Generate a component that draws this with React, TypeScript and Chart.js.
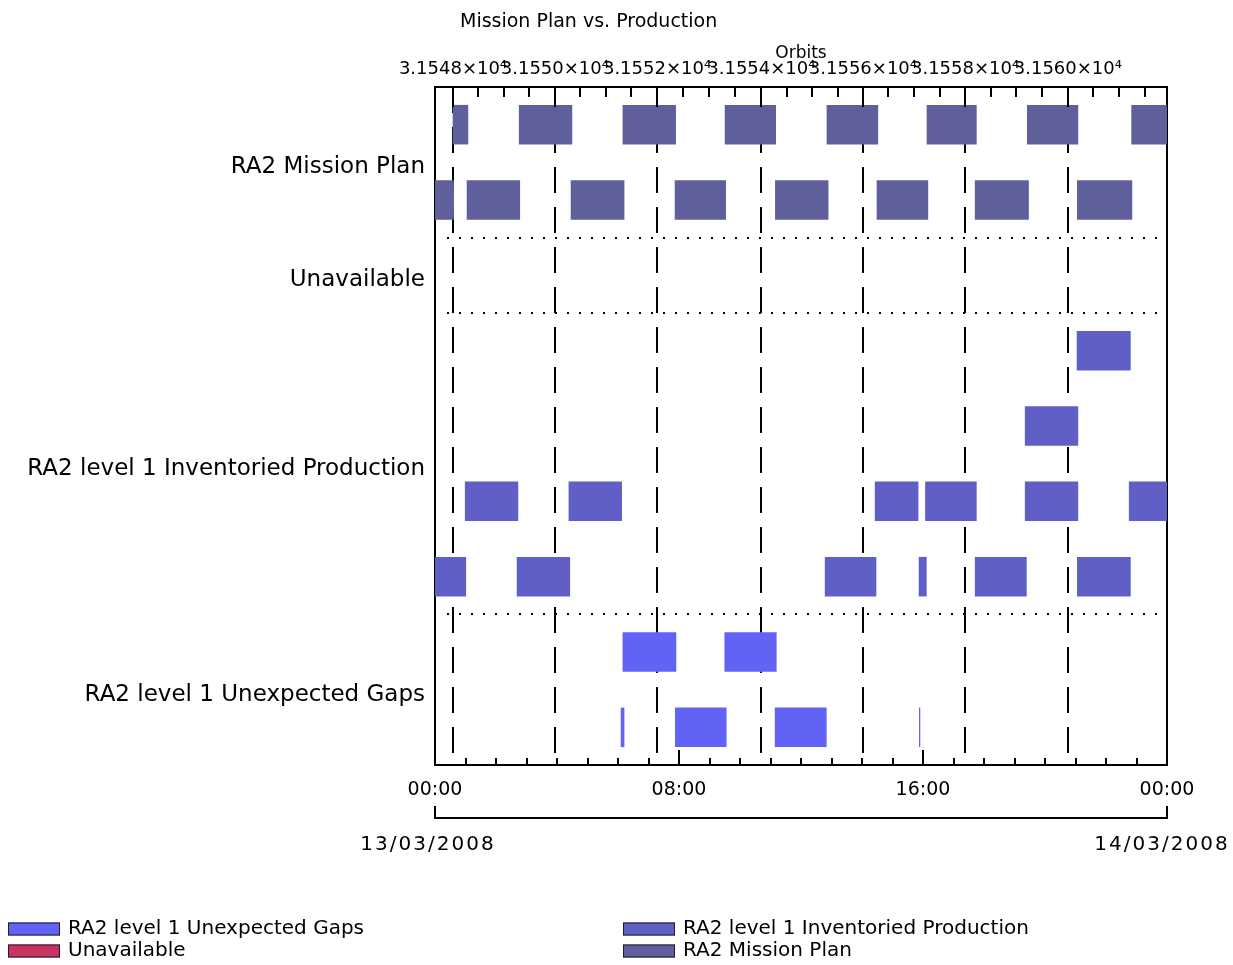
import { useEffect, useRef } from 'react';
import { Chart, registerables } from 'chart.js';

Chart.register(...registerables);

// ---------- data ----------
const chartTitle = 'Mission Plan vs. Production';
const orbitAxisTitle = 'Orbits';

const lanes = ['plan-a', 'plan-b', 'unavailable', 'prod-a', 'prod-b', 'prod-c', 'prod-d', 'gaps-a', 'gaps-b'];
const sectionNames = ['RA2 Mission Plan', 'Unavailable', 'RA2 level 1 Inventoried Production', 'RA2 level 1 Unexpected Gaps'];
const sectionLaneCounts = [2, 1, 4, 2];

const timeTickLabels = ['00:00', '08:00', '16:00', '00:00'];
const dateLabels = ['13/03/2008', '14/03/2008'];

const orbitNumbers = [31548, 31550, 31552, 31554, 31556, 31558, 31560];
const orbitTimes = [0.59, 3.93, 7.28, 10.7, 14.03, 17.38, 20.75]; // hours after 00:00

const seriesNames = ['RA2 level 1 Unexpected Gaps', 'Unavailable', 'RA2 level 1 Inventoried Production', 'RA2 Mission Plan'];
const seriesColors = ['#6262f4', '#c9335f', '#5f5fc6', '#5f5f9c'];

// spans in hours [start, end]
const planLaneA = [[0.58, 1.09], [2.75, 4.5], [6.15, 7.9], [9.5, 11.18], [12.84, 14.53], [16.12, 17.76], [19.41, 21.09], [22.83, 24]];
const planLaneB = [[0, 0.62], [1.04, 2.79], [4.45, 6.21], [7.86, 9.54], [11.15, 12.9], [14.48, 16.17], [17.7, 19.47], [21.05, 22.86]];
const unavailableSpans: number[][] = [];
const prodLaneA = [[21.04, 22.81]];
const prodLaneB = [[19.34, 21.09]];
const prodLaneC = [[0.98, 2.73], [4.38, 6.13], [14.42, 15.85], [16.07, 17.76], [19.34, 21.09], [22.75, 24]];
const prodLaneD = [[0, 1.02], [2.68, 4.43], [12.78, 14.47], [15.86, 16.12], [17.7, 19.4], [21.05, 22.81]];
const gapsLaneA = [[6.15, 7.91], [9.49, 11.2]];
const gapsLaneB = [[6.09, 6.21], [7.87, 9.56], [11.14, 12.84], [15.87, 15.91]];

// ---------- helpers ----------
const FONT = 'DejaVu Sans';
const toBars = (lane: string, spans: number[][]) => spans.map(([s, e]) => ({ x: [s, e], y: lane }));

const sectionCenters: number[] = [];
const sectionBounds: number[] = [];
{
  let acc = 0;
  sectionLaneCounts.forEach((n, i) => {
    sectionCenters.push(acc + n / 2);
    acc += n;
    if (i < sectionLaneCounts.length - 1) sectionBounds.push(acc);
  });
}

const orbitLabel = (n: number) => (n / 1e4).toFixed(4) + '×10⁴';

const decorPlugin = {
  id: 'decor',
  beforeDatasetsDraw(chart: any) {
    const { ctx, chartArea: a, scales } = chart;
    const xs = scales.x;
    const ys = scales.ySec;
    ctx.save();
    ctx.strokeStyle = '#000';
    ctx.lineWidth = 2;
    ctx.setLineDash([26, 14]);
    orbitTimes.forEach((t) => {
      const px = Math.round(xs.getPixelForValue(t));
      ctx.beginPath();
      ctx.moveTo(px, a.top);
      ctx.lineTo(px, a.bottom);
      ctx.stroke();
    });
    ctx.setLineDash([2, 10]);
    sectionBounds.forEach((v) => {
      const py = Math.round(ys.getPixelForValue(v));
      ctx.beginPath();
      ctx.moveTo(a.left + 12, py);
      ctx.lineTo(a.right - 6, py);
      ctx.stroke();
    });
    ctx.restore();
  },
  afterDraw(chart: any) {
    const { ctx, chartArea: a, scales } = chart;
    const xs = scales.x;
    const px = (t: number) => Math.round(xs.getPixelForValue(t));
    const line = (x1: number, y1: number, x2: number, y2: number) => {
      ctx.beginPath();
      ctx.moveTo(x1, y1);
      ctx.lineTo(x2, y2);
      ctx.stroke();
    };
    ctx.save();
    ctx.strokeStyle = '#000';
    ctx.lineWidth = 2;
    ctx.setLineDash([]);

    // top orbit ticks (inward)
    orbitTimes.forEach((t) => line(px(t), a.top, px(t), a.top + 20));
    const n = orbitTimes.length;
    const avg = (orbitTimes[n - 1] - orbitTimes[0]) / (n - 1);
    for (let i = 0; i < n - 1; i++) {
      for (let j = 1; j < 4; j++) {
        const t = orbitTimes[i] + ((orbitTimes[i + 1] - orbitTimes[i]) * j) / 4;
        line(px(t), a.top, px(t), a.top + 10);
      }
    }
    for (let t = orbitTimes[n - 1] + avg / 4; t < 24; t += avg / 4) line(px(t), a.top, px(t), a.top + 10);
    for (let t = orbitTimes[0] - avg / 4; t > 0; t -= avg / 4) line(px(t), a.top, px(t), a.top + 10);

    // bottom hour ticks (inward)
    for (let h = 1; h < 24; h++) {
      const len = h % 8 === 0 ? 15 : 7;
      line(px(h), a.bottom, px(h), a.bottom - len);
    }

    // date bracket
    ctx.beginPath();
    ctx.moveTo(a.left, a.bottom + 41);
    ctx.lineTo(a.left, a.bottom + 53);
    ctx.lineTo(a.right, a.bottom + 53);
    ctx.lineTo(a.right, a.bottom + 41);
    ctx.stroke();

    ctx.fillStyle = '#000';
    ctx.textBaseline = 'middle';
    ctx.textAlign = 'center';
    ctx.font = `20px "${FONT}"`;
    if ('letterSpacing' in ctx) (ctx as any).letterSpacing = '2px';
    ctx.fillText(dateLabels[0], a.left - 7, a.bottom + 80);
    ctx.fillText(dateLabels[1], a.right - 5, a.bottom + 80);
    if ('letterSpacing' in ctx) (ctx as any).letterSpacing = '0px';

    // title
    ctx.textAlign = 'left';
    ctx.font = `19px "${FONT}"`;
    ctx.fillText(chartTitle, 460, 22);

    // legend (two columns)
    ctx.font = `20px "${FONT}"`;
    chart.data.datasets.forEach((ds: any, i: number) => {
      const col = Math.floor(i / 2);
      const row = i % 2;
      const sx = col === 0 ? 8 : 623;
      const cy = 929 + row * 22;
      ctx.fillStyle = ds.backgroundColor;
      ctx.fillRect(sx, cy - 6.5, 52, 13);
      ctx.lineWidth = 1;
      ctx.strokeStyle = '#1a1a2a';
      ctx.strokeRect(sx + 0.5, cy - 6, 51, 12);
      ctx.fillStyle = '#000';
      ctx.fillText(ds.label, sx + 60, cy);
    });
    ctx.restore();
  },
};

export default function App() {
  const ref = useRef<HTMLCanvasElement>(null);
  useEffect(() => {
    if (!ref.current) return;
    const laneSeries = [
      [...toBars('gaps-a', gapsLaneA), ...toBars('gaps-b', gapsLaneB)],
      toBars('unavailable', unavailableSpans),
      [...toBars('prod-a', prodLaneA), ...toBars('prod-b', prodLaneB), ...toBars('prod-c', prodLaneC), ...toBars('prod-d', prodLaneD)],
      [...toBars('plan-a', planLaneA), ...toBars('plan-b', planLaneB)],
    ];
    const chart = new Chart(ref.current, {
      type: 'bar',
      data: {
        datasets: laneSeries.map((data, i) => ({
          label: seriesNames[i],
          data: data as any,
          backgroundColor: seriesColors[i],
          borderWidth: 0,
          xAxisID: 'x',
          yAxisID: 'y',
          grouped: false,
          categoryPercentage: 1,
          barPercentage: 0.525,
        })),
      },
      options: {
        indexAxis: 'y',
        animation: false,
        responsive: false,
        layout: { padding: 0 },
        plugins: {
          legend: { display: false },
          title: { display: false },
          tooltip: { enabled: false },
        },
        scales: {
          y: { type: 'category', labels: lanes, offset: true, display: false },
          x: {
            type: 'linear',
            position: 'bottom',
            min: 0,
            max: 24,
            offset: false,
            grid: { display: false, drawTicks: false, tickLength: 0 },
            border: { display: true, color: '#000', width: 2 },
            ticks: {
              stepSize: 1,
              autoSkip: false,
              maxRotation: 0,
              minRotation: 0,
              padding: 14,
              color: '#000',
              font: { family: FONT, size: 19 },
              callback: (v: any) => (Number(v) % 8 === 0 ? timeTickLabels[Number(v) / 8] : ''),
            },
            afterFit: (s: any) => { s.height = 200; },
          },
          x2: {
            type: 'linear',
            position: 'top',
            min: 0,
            max: 24,
            offset: false,
            grid: { display: false, drawTicks: false, tickLength: 0 },
            border: { display: true, color: '#000', width: 2 },
            title: { display: true, text: orbitAxisTitle, color: '#000', font: { family: FONT, size: 17 }, padding: { top: 43, bottom: 0 } },
            afterBuildTicks: (s: any) => { s.ticks = orbitTimes.map((v) => ({ value: v })); },
            ticks: {
              autoSkip: false,
              maxRotation: 0,
              minRotation: 0,
              padding: 7,
              color: '#000',
              font: { family: FONT, size: 18 },
              callback: (_v: any, i: number) => orbitLabel(orbitNumbers[i]),
            },
            afterFit: (s: any) => { s.height = 87; },
          },
          ySec: {
            type: 'linear',
            position: 'left',
            min: 0,
            max: lanes.length,
            reverse: true,
            offset: false,
            grid: { display: false, drawTicks: false, tickLength: 0, offset: false },
            border: { display: true, color: '#000', width: 2 },
            afterBuildTicks: (s: any) => { s.ticks = sectionCenters.map((v) => ({ value: v })); },
            ticks: {
              autoSkip: false,
              padding: 10,
              labelOffset: 5,
              color: '#000',
              font: { family: FONT, size: 23 },
              callback: (_v: any, i: number) => sectionNames[i],
            },
            afterFit: (s: any) => { s.width = 435; },
          },
          yRight: {
            type: 'linear',
            position: 'right',
            min: 0,
            max: 1,
            offset: false,
            grid: { display: false, drawTicks: false, tickLength: 0, offset: false },
            border: { display: true, color: '#000', width: 2 },
            ticks: { display: false },
            afterFit: (s: any) => { s.width = 66; },
          },
        },
      } as any,
      plugins: [decorPlugin],
    });
    return () => chart.destroy();
  }, []);
  return (
    <div style={{ position: 'absolute', left: 0, top: 0, width: 1233, height: 965, background: '#fff' }}>
      <canvas ref={ref} width={1233} height={965} style={{ display: 'block' }} />
    </div>
  );
}
